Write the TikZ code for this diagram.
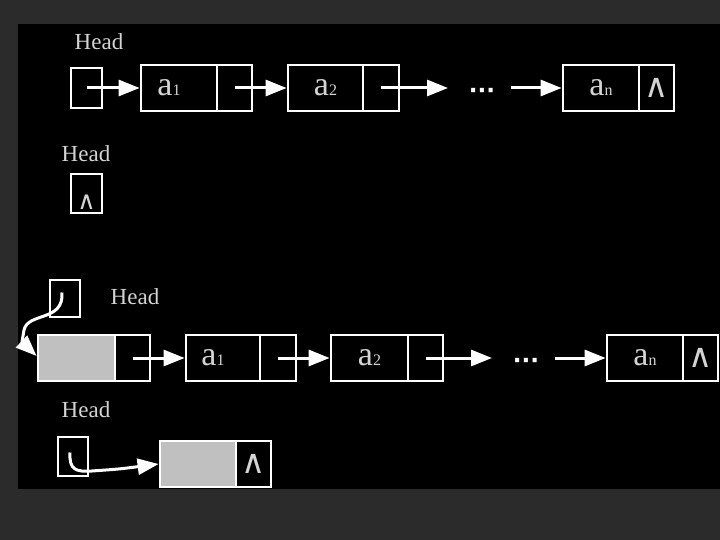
\documentclass[tikz,border=0pt]{standalone}
\usepackage{fontspec}
\setmainfont{Liberation Serif}
\newfontfamily\dotfont{DejaVu Sans}
\usetikzlibrary{arrows.meta}
\definecolor{bgout}{HTML}{2B2B2B}
\definecolor{txt}{HTML}{D4D4D4}
\definecolor{fillg}{HTML}{C0C0C0}
\newcommand{\myel}[2]{{\fontsize{34}{34}\selectfont #1}{\fontsize{16}{16}\selectfont #2}}
\newcommand{\mynil}{{\dotfont\fontsize{33}{33}\selectfont ∧}}
\newcommand{\mynilsmall}{{\dotfont\fontsize{25}{25}\selectfont ∧}}
\begin{document}
\begin{tikzpicture}[x=1pt,y=-1pt,
  cell/.style={draw=white, line width=2.8pt, minimum height=46pt, inner sep=0pt, text=txt},
  grayfill/.style={fill=fillg},
  lbl/.style={text=txt, font=\fontsize{23}{23}\selectfont, inner sep=0pt},
  dotsnode/.style={text=white, font=\dotfont\bfseries\fontsize{23}{23}\selectfont, inner sep=0pt},
  nilnode/.style={text=txt, inner sep=0pt},
  arr/.style={draw=white, line width=3pt, -{Triangle[length=21pt,width=16pt]}}]
\fill[bgout] (0,0) rectangle (720,540);
\useasboundingbox (0,0) rectangle (720,540);
\fill[black] (18,24) rectangle (720,489);

% ---------- Row 1 ----------
\node[lbl] (head1) at (99,42) {Head};
\node[cell, minimum width=31pt, minimum height=40pt] (h1) at (86.5,88) {};
\node[cell, minimum width=76pt] (a1d) at (179,88) {\myel{a}{1}\hspace*{20pt}};
\node[cell, minimum width=35pt] (a1p) at (234.5,88) {};
\node[cell, minimum width=75pt] (a2d) at (325.5,88) {\myel{a}{2}};
\node[cell, minimum width=36pt] (a2p) at (381,88) {};
\node[dotsnode] (d1) at (482,93) {···};
\coordinate (d1in) at (448,88);
\coordinate (d1out) at (511,88);
\node[cell, minimum width=76pt] (and) at (601,88) {\myel{a}{n}};
\node[cell, minimum width=35pt] (anp) at (656.5,88) {\mynil};
\draw[arr] (h1.center) -- (a1d.west);
\draw[arr] (a1p.center) -- (a2d.west);
\draw[arr] (a2p.center) -- (d1in);
\draw[arr] (d1out) -- (and.west);

% ---------- Row 2 ----------
\node[lbl] (head2) at (86,154) {Head};
\node[cell, minimum width=31pt, minimum height=39pt] (h2) at (86.5,193.5) {};
\node[nilnode] (h2nil) at (86.5,202) {\mynilsmall};

% ---------- Row 3 ----------
\node[cell, minimum width=30pt, minimum height=37pt] (h3) at (65,298.5) {};
\node[lbl] (head3) at (135,297) {Head};
\node[cell, grayfill, minimum width=77pt] (g1d) at (76.5,358) {};
\node[cell, minimum width=35pt] (g1p) at (132.5,358) {};
\node[cell, minimum width=74pt] (b1d) at (223,358) {\myel{a}{1}\hspace*{20pt}};
\node[cell, minimum width=36pt] (b1p) at (278,358) {};
\node[cell, minimum width=77pt] (b2d) at (369.5,358) {\myel{a}{2}};
\node[cell, minimum width=35pt] (b2p) at (425.5,358) {};
\node[dotsnode] (d3) at (526,363) {···};
\coordinate (d3in) at (492,358);
\coordinate (d3out) at (555,358);
\node[cell, minimum width=76pt] (bnd) at (645,358) {\myel{a}{n}};
\node[cell, minimum width=35pt] (bnp) at (700.5,358) {\mynil};
\draw[arr] ([xshift=-3pt,yshift=6pt]h3.center) .. controls (64,322) and (28,312) .. (24,330)
  .. controls (22,342) .. ([yshift=2pt]g1d.west);
\draw[arr] (g1p.center) -- (b1d.west);
\draw[arr] (b1p.center) -- (b2d.west);
\draw[arr] (b2p.center) -- (d3in);
\draw[arr] (d3out) -- (bnd.west);

% ---------- Row 4 ----------
\node[lbl] (head4) at (86,410) {Head};
\node[cell, minimum width=30pt, minimum height=39pt] (h4) at (73,456.5) {};
\node[cell, grayfill, minimum width=76pt] (g2d) at (198,464) {};
\node[cell, minimum width=35pt] (g2p) at (253.5,464) {\mynil};
\draw[arr] ([xshift=-3pt,yshift=4pt]h4.center) .. controls (69,470) and (76,472) .. (92,471)
  .. controls (120,469) .. (g2d.west);
\end{tikzpicture}
\end{document}
